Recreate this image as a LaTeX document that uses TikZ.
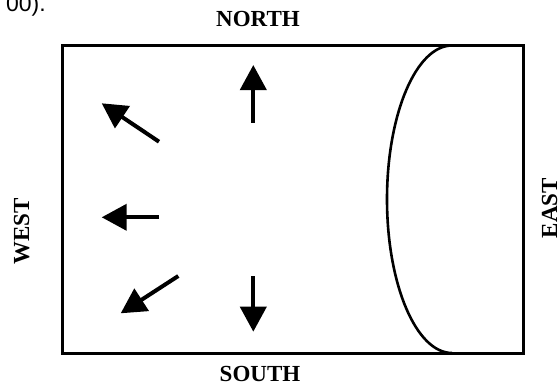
\documentclass[tikz,border=0pt]{standalone}
\usepackage{fontspec}
\setmainfont{Liberation Serif}
\newfontfamily\fragfont{Liberation Sans}
\usetikzlibrary{arrows.meta}
\tikzset{
  lbl/.style={inner sep=0pt, font=\fontsize{23}{23}\selectfont\bfseries},
  flowarrow/.style={line width=4pt, -{Triangle[length=25pt,width=26pt]}},
  frame/.style={line width=3pt},
  front/.style={line width=2.6pt},
}
\begin{document}
\begin{tikzpicture}[x=1pt,y=-1pt]
\useasboundingbox (0,0) rectangle (559,388);
\clip (0,0) rectangle (559,388);
% stray cropped text fragment
\node[inner sep=0pt, anchor=base east, font=\fragfont\fontsize{23}{23}\selectfont] (frag) at (46,11.5) {00).};
% labels
\node[lbl] (north) at (258,19) {NORTH};
\node[lbl] (south) at (260,374) {SOUTH};
\node[lbl, rotate=90] (west) at (21.7,231.5) {WEST};
\node[lbl, rotate=90] (east) at (549.5,208) {EAST};
% frame
\draw[frame] (62.5,45.5) rectangle (523,353);
% front curve
\draw[front] (452,45.5) arc[start angle=-90, end angle=-270, x radius=65, y radius=153.75];
% arrows
\coordinate (nT) at (253.3,122.7); \coordinate (nH) at (253.3,65);
\coordinate (sT) at (253.3,276);   \coordinate (sH) at (253.3,331.7);
\coordinate (wT) at (159,217.3);   \coordinate (wH) at (101.7,217.3);
\coordinate (nwT) at (159,141.7);  \coordinate (nwH) at (101.7,103.3);
\coordinate (swT) at (178.3,276);  \coordinate (swH) at (120.7,313.3);
\draw[flowarrow] (nT) -- (nH);
\draw[flowarrow] (sT) -- (sH);
\draw[flowarrow] (wT) -- (wH);
\draw[flowarrow] (nwT) -- (nwH);
\draw[flowarrow] (swT) -- (swH);
\end{tikzpicture}
\end{document}
